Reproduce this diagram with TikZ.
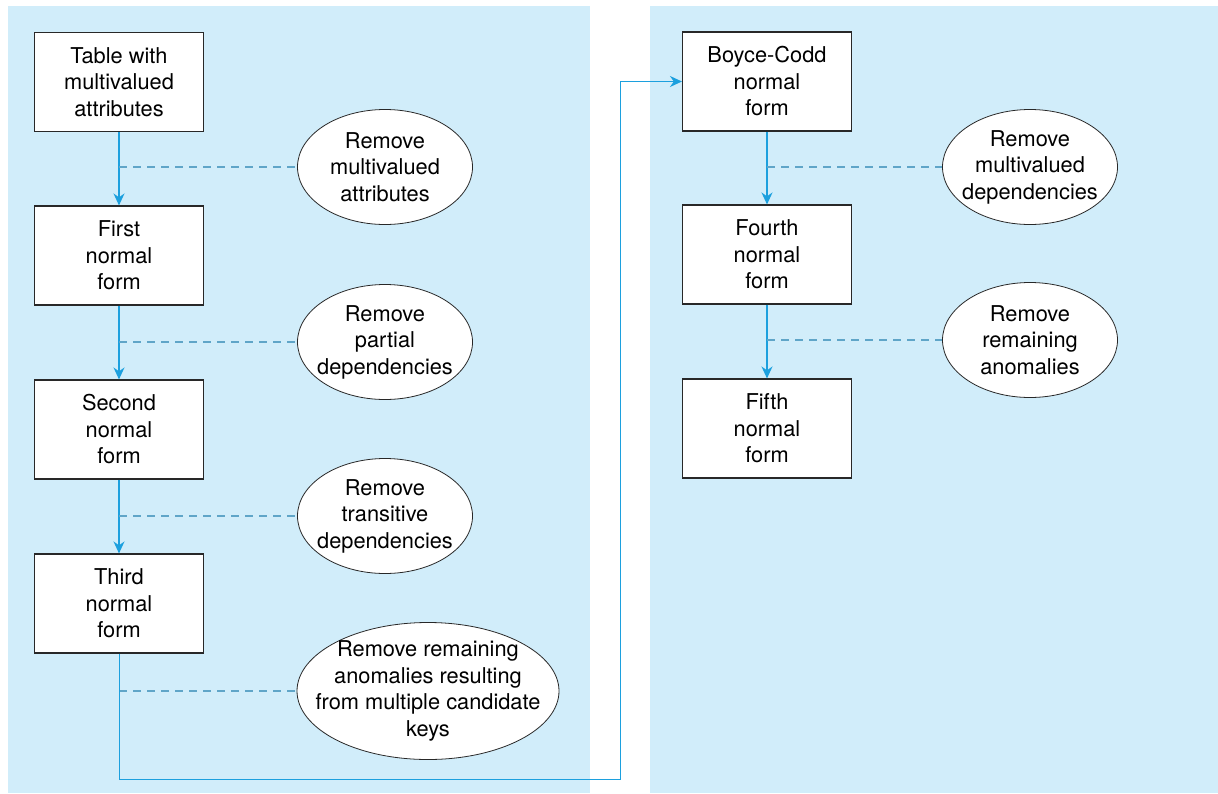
\documentclass[tikz,border=0pt]{standalone}
\usepackage{fontspec}
\setmainfont{TeX Gyre Heros}
\usetikzlibrary{shapes.geometric,arrows.meta}
\definecolor{panelblue}{RGB}{209,237,250}
\definecolor{flowblue}{RGB}{28,160,222}
\definecolor{dashblue}{RGB}{95,165,200}
\definecolor{edgegray}{RGB}{40,40,40}
\begin{document}
\begin{tikzpicture}[x=1pt,y=-1pt,
  formbox/.style={draw=edgegray, line width=1.1pt, fill=white,
    minimum width=169pt, minimum height=99pt, inner sep=0pt,
    align=center, font=\fontsize{21.8}{26.5}\selectfont},
  stepoval/.style={draw=edgegray, line width=0.8pt, fill=white, ellipse,
    inner sep=0pt, minimum width=175pt, minimum height=115pt},
  steptext/.style={align=center, inner sep=0pt,
    font=\fontsize{21.8}{26.5}\selectfont},
  flow/.style={draw=flowblue, line width=1.5pt,
    -{Stealth[length=12pt,width=11pt]}},
  link/.style={draw=flowblue, line width=1pt,
    -{Stealth[length=12pt,width=11pt]}},
  tie/.style={draw=dashblue, line width=1.2pt, dash pattern=on 8pt off 6pt},
]
\useasboundingbox (0,0) rectangle (1218,793);

% two background panels
\fill[panelblue] (8,6) rectangle (590,793);
\fill[panelblue] (650,6) rectangle (1218,793);

% normal forms, left column
\node[formbox] (t0) at (119,82)    {Table with\\multivalued\\attributes};
\node[formbox] (t1) at (119,255.5) {First\\normal\\form};
\node[formbox] (t2) at (119,429.5) {Second\\normal\\form};
\node[formbox] (t3) at (119,603.5) {Third\\normal\\form};

% normal forms, right column
\node[formbox] (b0) at (767,81.5)  {Boyce-Codd\\normal\\form};
\node[formbox] (b1) at (767,254.5) {Fourth\\normal\\form};
\node[formbox] (b2) at (767,428.5) {Fifth\\normal\\form};

% transformation steps
\node[stepoval] (r0) at (385,167) {};
\node[steptext] at (r0) {Remove\\multivalued\\attributes};
\node[stepoval] (r1) at (385,342) {};
\node[steptext] at (r1) {Remove\\partial\\dependencies};
\node[stepoval] (r2) at (385,516) {};
\node[steptext] at (r2) {Remove\\transitive\\dependencies};
\node[stepoval, minimum width=262pt, minimum height=137pt] (r3) at (428,691) {};
\node[steptext] at (r3) {Remove remaining\\anomalies resulting\\from multiple candidate\\keys};

\node[stepoval] (q0) at (1030,167) {};
\node[steptext] at (q0) {Remove\\multivalued\\dependencies};
\node[stepoval] (q1) at (1030,340) {};
\node[steptext] at (q1) {Remove\\remaining\\anomalies};

% flow between normal forms
\draw[flow] (t0) -- (t1);
\draw[flow] (t1) -- (t2);
\draw[flow] (t2) -- (t3);
\draw[flow] (b0) -- (b1);
\draw[flow] (b1) -- (b2);

% step annotations
\draw[tie] (t0.south |- r0.west) -- (r0.west);
\draw[tie] (t1.south |- r1.west) -- (r1.west);
\draw[tie] (t2.south |- r2.west) -- (r2.west);
\draw[tie] (t3.south |- r3.west) -- (r3.west);
\draw[tie] (b0.south |- q0.west) -- (q0.west);
\draw[tie] (b1.south |- q1.west) -- (q1.west);

% continuation from third normal form to BCNF
\coordinate (bend) at (620,779);
\draw[link] (t3.south) |- (bend) |- (b0.west);
\end{tikzpicture}
\end{document}
